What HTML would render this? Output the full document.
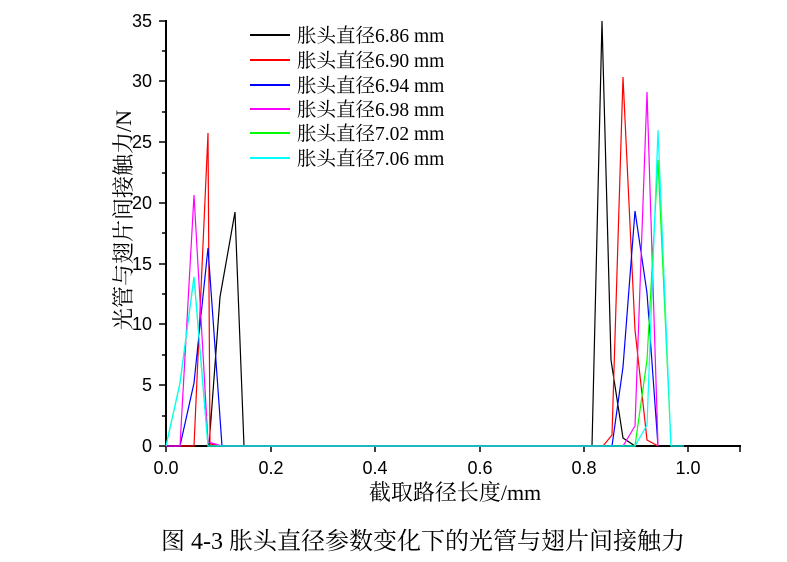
<!DOCTYPE html>
<html><head><meta charset="utf-8"><style>
body{margin:0;background:#fff;}
svg{display:block}
.t{font-family:"Liberation Sans",sans-serif;font-size:18px;}
.s{font-family:"Liberation Serif","Noto Serif CJK SC",serif;}
</style></head><body>
<svg width="787" height="562" viewBox="0 0 787 562" xmlns="http://www.w3.org/2000/svg">
<g stroke="#000" stroke-width="2" fill="none">
<line x1="166" y1="446" x2="741" y2="446"/>
<line x1="166" y1="446" x2="166" y2="20"/>
</g>
<g stroke="#000" stroke-width="1.5">
<line x1="166" y1="446" x2="166" y2="452"/><line x1="271" y1="446" x2="271" y2="452"/><line x1="375" y1="446" x2="375" y2="452"/><line x1="480" y1="446" x2="480" y2="452"/><line x1="584" y1="446" x2="584" y2="452"/><line x1="688" y1="446" x2="688" y2="452"/><line x1="740" y1="446" x2="740" y2="452"/>
<line x1="166" y1="446" x2="159" y2="446"/><line x1="166" y1="385" x2="159" y2="385"/><line x1="166" y1="324" x2="159" y2="324"/><line x1="166" y1="264" x2="159" y2="264"/><line x1="166" y1="203" x2="159" y2="203"/><line x1="166" y1="142" x2="159" y2="142"/><line x1="166" y1="81" x2="159" y2="81"/><line x1="166" y1="21" x2="159" y2="21"/>
<line x1="166" y1="416" x2="162" y2="416"/><line x1="166" y1="355" x2="162" y2="355"/><line x1="166" y1="294" x2="162" y2="294"/><line x1="166" y1="233" x2="162" y2="233"/><line x1="166" y1="173" x2="162" y2="173"/><line x1="166" y1="112" x2="162" y2="112"/><line x1="166" y1="51" x2="162" y2="51"/>
</g>
<g class="t" text-anchor="end">
<text x="152" y="452">0</text><text x="152" y="391">5</text><text x="152" y="330">10</text><text x="152" y="270">15</text><text x="152" y="209">20</text><text x="152" y="148">25</text><text x="152" y="87">30</text><text x="152" y="27">35</text>
</g>
<g class="t" text-anchor="middle">
<text x="166" y="474">0.0</text><text x="271" y="474">0.2</text><text x="375" y="474">0.4</text><text x="480" y="474">0.6</text><text x="584" y="474">0.8</text><text x="688" y="474">1.0</text>
</g>
<g fill="none" stroke-width="1.2">
<polyline stroke="#000" points="166,446 209,446 220,297 235,212 244,446 592,446 602,21 611,360 623,438 635,446 684,446"/>
<polyline stroke="#f00" points="166,446 194,446 208,133 210,444 222,446 603,446 612,435 623,77 635,330 647,440 658,446"/>
<polyline stroke="#00f" points="166,446 180,446 194,383 208,248 222,446 612,446 623,367 635,211 647,293 658,446"/>
<polyline stroke="#f0f" points="166,446 180,446 194,195 208,442 222,446 623,446 635,426 647,92 658,446"/>
<polyline stroke="#0f0" points="166,446 180,383 194,277 208,446 635,446 647,360 658,160 671,446"/>
<polyline stroke="#0ff" points="166,446 180,383 194,277 208,446 635,446 647,425 658,130 671,446 684,446"/>
</g>
<g stroke-width="2">
<line x1="250" y1="35" x2="290" y2="35" stroke="#000"/>
<line x1="250" y1="60" x2="290" y2="60" stroke="#f00"/>
<line x1="250" y1="85" x2="290" y2="85" stroke="#00f"/>
<line x1="250" y1="109" x2="290" y2="109" stroke="#f0f"/>
<line x1="250" y1="133" x2="290" y2="133" stroke="#0f0"/>
<line x1="250" y1="158" x2="290" y2="158" stroke="#0ff"/>
</g>
<g class="s" font-size="19.5">
<text x="297" y="42">胀头直径6.86 mm</text>
<text x="297" y="67">胀头直径6.90 mm</text>
<text x="297" y="92">胀头直径6.94 mm</text>
<text x="297" y="116">胀头直径6.98 mm</text>
<text x="297" y="140">胀头直径7.02 mm</text>
<text x="297" y="165">胀头直径7.06 mm</text>
</g>
<text class="s" font-size="22" transform="translate(131,220) rotate(-90)" text-anchor="middle">光管与翅片间接触力/N</text>
<text class="s" font-size="22" x="455" y="500" text-anchor="middle">截取路径长度/mm</text>
<text class="s" font-size="24" x="423" y="549" text-anchor="middle">图 4-3  胀头直径参数变化下的光管与翅片间接触力</text>
</svg>
</body></html>
